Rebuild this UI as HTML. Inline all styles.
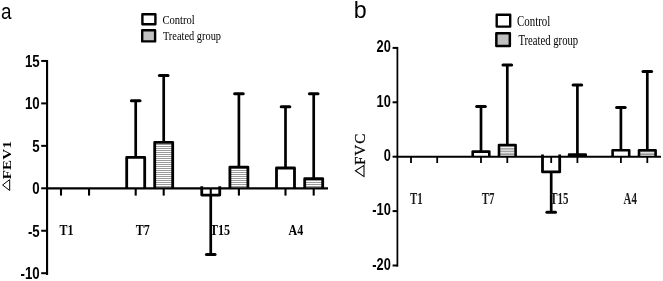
<!DOCTYPE html>
<html><head><meta charset="utf-8"><style>
html,body{margin:0;padding:0;background:#fff;}
body{width:663px;height:281px;overflow:hidden;font-family:"Liberation Sans", sans-serif;}
svg{display:block;}
text{filter:grayscale(1);}
</style></head><body>
<svg width="663" height="281" viewBox="0 0 663 281">
<rect width="663" height="281" fill="#fff"/>
<defs>
<pattern id="stL" patternUnits="userSpaceOnUse" x="0" y="1.0" width="4" height="2.0"><rect width="4" height="2.0" fill="#fff"/><rect y="1.000" width="4" height="1.000" fill="#9a9a9a"/></pattern>
<pattern id="stR" patternUnits="userSpaceOnUse" x="0" y="146.9" width="4" height="2.7"><rect width="4" height="2.7" fill="#fff"/><rect y="1.080" width="4" height="1.620" fill="#999999"/></pattern>
</defs>
<text transform="translate(1.00,18.90) scale(0.8500,1.0000)" font-family='"Liberation Sans", sans-serif' font-size="22.2" font-weight="normal" text-anchor="start" >a</text>
<rect x="142.40" y="14.30" width="13.00" height="9.90" fill="#fff" stroke="#000" stroke-width="2.4" stroke-linejoin="round"/>
<rect x="142.20" y="30.30" width="12.90" height="11.10" fill="#c0c0c0" stroke="#000" stroke-width="2.4" stroke-linejoin="round"/>
<text transform="translate(162.40,24.00) scale(1.0000,1.1200)" font-family='"Liberation Serif", serif' font-size="10.6" font-weight="normal" text-anchor="start" >Control</text>
<text transform="translate(162.90,40.30) scale(0.9800,1.1200)" font-family='"Liberation Serif", serif' font-size="10.6" font-weight="normal" text-anchor="start" >Treated group</text>
<line x1="47.05" y1="60.00" x2="47.05" y2="275.00" stroke="#000" stroke-width="2.15"/>
<line x1="41.20" y1="60.95" x2="47.05" y2="60.95" stroke="#000" stroke-width="2.0"/>
<text transform="translate(39.70,66.85) scale(0.8400,1.0000)" font-family='"Liberation Sans", sans-serif' font-size="15.8" font-weight="bold" text-anchor="end" >15</text>
<line x1="41.20" y1="103.40" x2="47.05" y2="103.40" stroke="#000" stroke-width="2.0"/>
<text transform="translate(39.70,109.30) scale(0.8400,1.0000)" font-family='"Liberation Sans", sans-serif' font-size="15.8" font-weight="bold" text-anchor="end" >10</text>
<line x1="41.20" y1="145.85" x2="47.05" y2="145.85" stroke="#000" stroke-width="2.0"/>
<text transform="translate(39.70,151.75) scale(0.8400,1.0000)" font-family='"Liberation Sans", sans-serif' font-size="15.8" font-weight="bold" text-anchor="end" >5</text>
<line x1="41.20" y1="188.30" x2="47.05" y2="188.30" stroke="#000" stroke-width="2.0"/>
<text transform="translate(39.70,194.20) scale(0.8400,1.0000)" font-family='"Liberation Sans", sans-serif' font-size="15.8" font-weight="bold" text-anchor="end" >0</text>
<line x1="41.20" y1="230.75" x2="47.05" y2="230.75" stroke="#000" stroke-width="2.0"/>
<text transform="translate(39.70,236.65) scale(0.8400,1.0000)" font-family='"Liberation Sans", sans-serif' font-size="15.8" font-weight="bold" text-anchor="end" >-5</text>
<line x1="41.20" y1="273.20" x2="47.05" y2="273.20" stroke="#000" stroke-width="2.0"/>
<text transform="translate(39.70,279.10) scale(0.8400,1.0000)" font-family='"Liberation Sans", sans-serif' font-size="15.8" font-weight="bold" text-anchor="end" >-10</text>
<path d="M126.70,188.30 L126.70,157.30 L144.70,157.30 L144.70,188.30" fill="#fff" stroke="#000" stroke-width="2.8" stroke-linejoin="round"/>
<line x1="135.70" y1="156.90" x2="135.70" y2="100.80" stroke="#000" stroke-width="2.7"/><line x1="131.40" y1="100.80" x2="140.00" y2="100.80" stroke="#000" stroke-width="3.0" stroke-linecap="round"/>
<path d="M154.70,188.30 L154.70,142.30 L172.70,142.30 L172.70,188.30" fill="url(#stL)" stroke="#000" stroke-width="2.8" stroke-linejoin="round"/>
<line x1="163.70" y1="141.90" x2="163.70" y2="75.50" stroke="#000" stroke-width="2.7"/><line x1="159.40" y1="75.50" x2="168.00" y2="75.50" stroke="#000" stroke-width="3.0" stroke-linecap="round"/>
<path d="M201.75,186.30 L201.75,195.10 L219.75,195.10 L219.75,186.30" fill="#fff" stroke="#000" stroke-width="2.8" stroke-linejoin="round"/>
<line x1="210.75" y1="195.50" x2="210.75" y2="254.60" stroke="#000" stroke-width="2.7"/><line x1="206.45" y1="254.60" x2="215.05" y2="254.60" stroke="#000" stroke-width="3.0" stroke-linecap="round"/>
<path d="M229.90,188.30 L229.90,167.10 L247.90,167.10 L247.90,188.30" fill="url(#stL)" stroke="#000" stroke-width="2.8" stroke-linejoin="round"/>
<line x1="238.90" y1="166.70" x2="238.90" y2="93.80" stroke="#000" stroke-width="2.7"/><line x1="234.60" y1="93.80" x2="243.20" y2="93.80" stroke="#000" stroke-width="3.0" stroke-linecap="round"/>
<path d="M276.50,188.30 L276.50,168.00 L294.50,168.00 L294.50,188.30" fill="#fff" stroke="#000" stroke-width="2.8" stroke-linejoin="round"/>
<line x1="285.50" y1="167.60" x2="285.50" y2="106.70" stroke="#000" stroke-width="2.7"/><line x1="281.20" y1="106.70" x2="289.80" y2="106.70" stroke="#000" stroke-width="3.0" stroke-linecap="round"/>
<path d="M304.70,188.30 L304.70,178.70 L322.70,178.70 L322.70,188.30" fill="url(#stL)" stroke="#000" stroke-width="2.8" stroke-linejoin="round"/>
<line x1="313.70" y1="178.30" x2="313.70" y2="93.80" stroke="#000" stroke-width="2.7"/><line x1="309.40" y1="93.80" x2="318.00" y2="93.80" stroke="#000" stroke-width="3.0" stroke-linecap="round"/>
<line x1="46.05" y1="188.30" x2="328.00" y2="188.30" stroke="#000" stroke-width="2.3"/>
<line x1="61.00" y1="188.30" x2="61.00" y2="195.60" stroke="#000" stroke-width="2.1"/>
<line x1="89.05" y1="188.30" x2="89.05" y2="195.60" stroke="#000" stroke-width="2.1"/>
<line x1="135.70" y1="188.30" x2="135.70" y2="195.60" stroke="#000" stroke-width="2.1"/>
<line x1="163.70" y1="188.30" x2="163.70" y2="195.60" stroke="#000" stroke-width="2.1"/>
<line x1="210.75" y1="188.30" x2="210.75" y2="195.60" stroke="#000" stroke-width="2.1"/>
<line x1="238.90" y1="188.30" x2="238.90" y2="195.60" stroke="#000" stroke-width="2.1"/>
<line x1="285.50" y1="188.30" x2="285.50" y2="195.60" stroke="#000" stroke-width="2.1"/>
<line x1="313.70" y1="188.30" x2="313.70" y2="195.60" stroke="#000" stroke-width="2.1"/>
<text transform="translate(59.50,234.80) scale(0.8000,1.0000)" font-family='"Liberation Serif", serif' font-size="15" font-weight="bold" text-anchor="start" >T1</text>
<text transform="translate(135.80,234.80) scale(0.8000,1.0000)" font-family='"Liberation Serif", serif' font-size="15" font-weight="bold" text-anchor="start" >T7</text>
<text transform="translate(210.10,234.80) scale(0.8000,1.0000)" font-family='"Liberation Serif", serif' font-size="15" font-weight="bold" text-anchor="start" >T15</text>
<text transform="translate(288.60,234.80) scale(0.8000,1.0000)" font-family='"Liberation Serif", serif' font-size="15" font-weight="bold" text-anchor="start" >A4</text>
<path d="M9.7,179.6 L9.7,190.5 L2.6,185.0 Z" fill="none" stroke="#000" stroke-width="1.0" stroke-linejoin="miter"/>
<text transform="translate(10.60,179.30) rotate(-90) scale(1.1000,0.9300)" font-family='"Liberation Serif", serif' font-size="13.6" font-weight="bold" text-anchor="start" letter-spacing="0.25" >FEV1</text>
<text transform="translate(353.80,18.20) scale(1.0000,1.0000)" font-family='"Liberation Sans", sans-serif' font-size="23.2" font-weight="normal" text-anchor="start" >b</text>
<rect x="496.70" y="14.70" width="13.50" height="11.90" fill="#fff" stroke="#000" stroke-width="2.4" stroke-linejoin="round"/>
<rect x="496.35" y="33.25" width="13.50" height="12.80" fill="#c0c0c0" stroke="#000" stroke-width="2.5" stroke-linejoin="round"/>
<text transform="translate(517.00,25.50) scale(1.0000,1.2800)" font-family='"Liberation Serif", serif' font-size="10.9" font-weight="normal" text-anchor="start" >Control</text>
<text transform="translate(518.40,44.90) scale(0.9800,1.2800)" font-family='"Liberation Serif", serif' font-size="10.9" font-weight="normal" text-anchor="start" >Treated group</text>
<line x1="397.40" y1="47.00" x2="397.40" y2="266.60" stroke="#000" stroke-width="1.75"/>
<line x1="392.60" y1="47.90" x2="397.40" y2="47.90" stroke="#000" stroke-width="2.0"/>
<text transform="translate(390.80,52.20) scale(0.7900,1.0000)" font-family='"Liberation Sans", sans-serif' font-size="16.2" font-weight="bold" text-anchor="end" >20</text>
<line x1="392.60" y1="102.30" x2="397.40" y2="102.30" stroke="#000" stroke-width="2.0"/>
<text transform="translate(390.80,106.60) scale(0.7900,1.0000)" font-family='"Liberation Sans", sans-serif' font-size="16.2" font-weight="bold" text-anchor="end" >10</text>
<line x1="392.60" y1="156.70" x2="397.40" y2="156.70" stroke="#000" stroke-width="2.0"/>
<text transform="translate(390.80,161.00) scale(0.7900,1.0000)" font-family='"Liberation Sans", sans-serif' font-size="16.2" font-weight="bold" text-anchor="end" >0</text>
<line x1="392.60" y1="211.10" x2="397.40" y2="211.10" stroke="#000" stroke-width="2.0"/>
<text transform="translate(390.80,215.40) scale(0.7900,1.0000)" font-family='"Liberation Sans", sans-serif' font-size="16.2" font-weight="bold" text-anchor="end" >-10</text>
<line x1="392.60" y1="265.50" x2="397.40" y2="265.50" stroke="#000" stroke-width="2.0"/>
<text transform="translate(390.80,269.80) scale(0.7900,1.0000)" font-family='"Liberation Sans", sans-serif' font-size="16.2" font-weight="bold" text-anchor="end" >-20</text>
<path d="M472.70,156.70 L472.70,151.60 L489.30,151.60 L489.30,156.70" fill="#fff" stroke="#000" stroke-width="2.6" stroke-linejoin="round"/>
<line x1="481.00" y1="151.30" x2="481.00" y2="106.60" stroke="#000" stroke-width="2.7"/><line x1="476.70" y1="106.60" x2="485.30" y2="106.60" stroke="#000" stroke-width="3.0" stroke-linecap="round"/>
<path d="M499.00,156.70 L499.00,145.00 L515.60,145.00 L515.60,156.70" fill="url(#stR)" stroke="#000" stroke-width="2.6" stroke-linejoin="round"/>
<line x1="507.30" y1="144.70" x2="507.30" y2="65.00" stroke="#000" stroke-width="2.7"/><line x1="503.00" y1="65.00" x2="511.60" y2="65.00" stroke="#000" stroke-width="3.0" stroke-linecap="round"/>
<path d="M542.50,154.50 L542.50,171.90 L559.70,171.90 L559.70,154.50" fill="#fff" stroke="#000" stroke-width="2.8" stroke-linejoin="round"/>
<line x1="551.20" y1="172.30" x2="551.20" y2="212.30" stroke="#000" stroke-width="2.7"/><line x1="546.90" y1="212.30" x2="555.50" y2="212.30" stroke="#000" stroke-width="3.0" stroke-linecap="round"/>
<path d="M569.10,156.70 L569.10,154.50 L585.70,154.50 L585.70,156.70" fill="#000" stroke="#000" stroke-width="2.6" stroke-linejoin="round"/>
<line x1="577.40" y1="154.20" x2="577.40" y2="85.00" stroke="#000" stroke-width="2.7"/><line x1="573.10" y1="85.00" x2="581.70" y2="85.00" stroke="#000" stroke-width="3.0" stroke-linecap="round"/>
<path d="M612.60,156.70 L612.60,150.20 L629.20,150.20 L629.20,156.70" fill="#fff" stroke="#000" stroke-width="2.6" stroke-linejoin="round"/>
<line x1="620.90" y1="149.90" x2="620.90" y2="107.40" stroke="#000" stroke-width="2.7"/><line x1="616.60" y1="107.40" x2="625.20" y2="107.40" stroke="#000" stroke-width="3.0" stroke-linecap="round"/>
<path d="M639.00,156.70 L639.00,150.20 L655.60,150.20 L655.60,156.70" fill="url(#stR)" stroke="#000" stroke-width="2.6" stroke-linejoin="round"/>
<line x1="647.30" y1="149.90" x2="647.30" y2="71.40" stroke="#000" stroke-width="2.7"/><line x1="643.00" y1="71.40" x2="651.60" y2="71.40" stroke="#000" stroke-width="3.0" stroke-linecap="round"/>
<line x1="396.40" y1="156.70" x2="661.00" y2="156.70" stroke="#000" stroke-width="2.0"/>
<line x1="411.00" y1="156.70" x2="411.00" y2="163.00" stroke="#000" stroke-width="1.8"/>
<line x1="437.20" y1="156.70" x2="437.20" y2="163.00" stroke="#000" stroke-width="1.8"/>
<line x1="481.00" y1="156.70" x2="481.00" y2="163.00" stroke="#000" stroke-width="1.8"/>
<line x1="507.30" y1="156.70" x2="507.30" y2="163.00" stroke="#000" stroke-width="1.8"/>
<line x1="551.20" y1="156.70" x2="551.20" y2="163.00" stroke="#000" stroke-width="1.8"/>
<line x1="577.40" y1="156.70" x2="577.40" y2="163.00" stroke="#000" stroke-width="1.8"/>
<line x1="620.90" y1="156.70" x2="620.90" y2="163.00" stroke="#000" stroke-width="1.8"/>
<line x1="647.30" y1="156.70" x2="647.30" y2="163.00" stroke="#000" stroke-width="1.8"/>
<text transform="translate(410.00,203.90) scale(0.6800,1.0000)" font-family='"Liberation Serif", serif' font-size="16.0" font-weight="bold" text-anchor="start" fill="#1a1a1a">T1</text>
<text transform="translate(481.80,203.90) scale(0.6800,1.0000)" font-family='"Liberation Serif", serif' font-size="16.0" font-weight="bold" text-anchor="start" fill="#1a1a1a">T7</text>
<text transform="translate(550.20,203.90) scale(0.6800,1.0000)" font-family='"Liberation Serif", serif' font-size="16.0" font-weight="bold" text-anchor="start" fill="#1a1a1a">T15</text>
<text transform="translate(623.60,203.90) scale(0.6800,1.0000)" font-family='"Liberation Serif", serif' font-size="16.0" font-weight="bold" text-anchor="start" fill="#1a1a1a">A4</text>
<path d="M364.0,165.4 L364.0,176.6 L355.4,170.8 Z" fill="none" stroke="#000" stroke-width="1.05" stroke-linejoin="miter"/>
<text transform="translate(364.70,165.00) rotate(-90) scale(1.1000,1.0000)" font-family='"Liberation Serif", serif' font-size="13.8" font-weight="normal" text-anchor="start" letter-spacing="0.8" stroke="#000" stroke-width="0.25">FVC</text>
</svg>
</body></html>
